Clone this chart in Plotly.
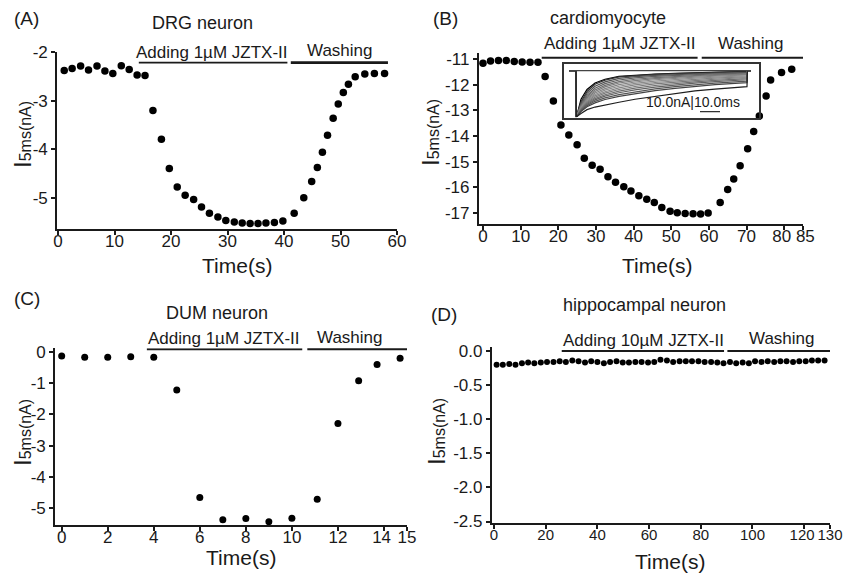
import plotly.graph_objects as go

# ---------------- data ----------------
# (A) DRG neuron
a_time = [1.1, 2.5, 4.0, 5.4, 6.9, 8.3, 9.7, 11.2, 12.6, 14.0, 15.4, 16.8, 18.3, 19.7, 21.1,
          22.5, 24.0, 25.4, 26.8, 28.3, 29.7, 31.2, 32.6, 34.0, 35.4, 36.8, 38.3, 39.8, 41.8,
          43.5, 44.9, 45.9, 46.8, 47.7, 48.7, 49.6, 50.5, 51.4, 52.6, 54.3, 56.0, 57.8]
a_current = [-2.38, -2.34, -2.29, -2.37, -2.29, -2.39, -2.44, -2.28, -2.36, -2.47, -2.48, -3.20,
             -3.79, -4.39, -4.77, -4.94, -5.03, -5.18, -5.31, -5.39, -5.46, -5.49, -5.51, -5.52,
             -5.52, -5.51, -5.50, -5.47, -5.31, -4.99, -4.66, -4.37, -4.06, -3.71, -3.36, -3.07,
             -2.83, -2.66, -2.51, -2.45, -2.44, -2.44]

# (B) cardiomyocyte
b_time = [0.0, 2.0, 4.1, 6.2, 8.3, 10.4, 12.5, 14.6, 16.5, 18.7, 20.7, 22.8, 25.0, 26.9, 29.0,
          31.1, 33.2, 35.2, 37.4, 39.3, 41.4, 43.5, 45.5, 47.5, 49.7, 51.6, 53.7, 55.8, 57.8,
          59.8, 63.0, 65.0, 66.6, 68.3, 70.3, 71.9, 73.4, 75.2, 76.4, 79.3, 82.0]
b_current = [-11.16, -11.07, -11.05, -11.05, -11.09, -11.11, -11.12, -11.12, -11.68, -12.63,
             -13.57, -13.96, -14.34, -14.87, -15.14, -15.30, -15.59, -15.81, -15.98, -16.15,
             -16.34, -16.47, -16.60, -16.80, -16.94, -17.00, -17.03, -17.04, -17.05, -17.01,
             -16.60, -16.09, -15.68, -15.16, -14.50, -13.83, -13.22, -12.44, -11.81, -11.52,
             -11.39]

# (B) inset: current traces (ms, nA)
inset_time = [-3, 0.5, 0.6, 1, 3, 6, 10, 15, 22, 30, 40, 50, 60, 70, 80, 86, 86.2, 88]
inset_traces = [
    [0, 0, -35, -34.0, -22.0, -14.5, -9.5, -6.6, -4.4, -3.4, -2.6, -2.1, -1.7, -1.3, -0.9, -0.6, 0, 0],
    [0, 0, -35, -34.0, -24.0, -16.0, -10.5, -7.3, -4.8, -3.7, -2.8, -2.3, -1.8, -1.4, -1.0, -0.7, 0, 0],
    [0, 0, -35, -34.3, -25.0, -17.5, -12.0, -8.6, -6.0, -4.6, -3.6, -2.9, -2.4, -2.0, -1.6, -1.3, 0, 0],
    [0, 0, -35, -34.5, -26.0, -19.0, -13.5, -10.0, -7.2, -5.6, -4.4, -3.6, -3.0, -2.5, -2.1, -1.8, 0, 0],
    [0, 0, -35, -34.5, -26.8, -20.0, -14.8, -11.3, -8.4, -6.6, -5.3, -4.4, -3.7, -3.1, -2.6, -2.3, 0, 0],
    [0, 0, -35, -34.5, -27.5, -21.0, -16.0, -12.5, -9.5, -7.6, -6.1, -5.1, -4.3, -3.7, -3.1, -2.8, 0, 0],
    [0, 0, -35, -34.7, -28.0, -22.0, -17.2, -13.8, -10.8, -8.7, -7.0, -5.9, -5.0, -4.3, -3.7, -3.3, 0, 0],
    [0, 0, -35, -34.8, -28.5, -22.8, -18.3, -15.0, -12.0, -9.8, -8.0, -6.8, -5.8, -5.0, -4.3, -3.9, 0, 0],
    [0, 0, -35, -34.8, -29.0, -23.7, -19.4, -16.2, -13.2, -11.0, -9.1, -7.8, -6.7, -5.8, -5.0, -4.6, 0, 0],
    [0, 0, -35, -34.8, -29.5, -24.5, -20.5, -17.3, -14.5, -12.2, -10.2, -8.8, -7.6, -6.6, -5.8, -5.3, 0, 0],
    [0, 0, -35, -35.0, -30.0, -25.3, -21.5, -18.5, -15.8, -13.5, -11.4, -9.9, -8.6, -7.5, -6.6, -6.1, 0, 0],
    [0, 0, -35, -35.0, -30.5, -26.0, -22.5, -19.6, -17.0, -14.8, -12.7, -11.0, -9.6, -8.5, -7.5, -7.0, 0, 0],
    [0, 0, -35, -35.0, -31.0, -26.9, -23.6, -20.9, -18.4, -16.2, -14.0, -12.3, -10.8, -9.6, -8.6, -8.1, 0, 0],
    [0, 0, -35, -35.0, -31.5, -27.8, -24.8, -22.2, -19.8, -17.6, -15.4, -13.6, -12.0, -10.8, -9.8, -9.2, 0, 0],
    [0, 0, -35.4, -35.2, -33.0, -30.0, -28.0, -26.3, -24.3, -22.0, -19.8, -17.8, -15.6, -14.2, -13.0, -12.3, 0, 0],
]
inset_colors = ["#000000", "#333333", "#505050", "#606060", "#6e6e6e", "#7a7a7a", "#848484",
                "#8c8c8c", "#848484", "#7a7a7a", "#6e6e6e", "#626262", "#555555", "#444444",
                "#1e1e1e"]
inset_base_time = [-3, 88]
inset_base_current = [0, 0]
inset_scale_time = [62.5, 72.5]
inset_scale_current = [-31.5, -31.5]

# (C) DUM neuron
c_time = [0, 1, 2, 3, 4, 5, 6, 7, 8, 9, 10, 11.1, 12.0, 12.9, 13.7, 14.7]
c_current = [-0.13, -0.17, -0.17, -0.15, -0.17, -1.22, -4.66, -5.38, -5.34, -5.44, -5.33,
             -4.72, -2.29, -0.92, -0.40, -0.20]

# (D) hippocampal neuron
d_time = [1, 3.4, 5.9, 8.3, 10.8, 13.2, 15.6, 18.1, 20.5, 23, 25.4, 27.8, 30.3, 32.7, 35.2,
          37.6, 40, 42.5, 44.9, 47.4, 49.8, 52.2, 54.7, 57.1, 59.6, 62, 64.4, 66.9, 69.3, 71.8,
          74.2, 76.6, 79.1, 81.5, 84, 86.4, 88.8, 91.3, 93.7, 96.2, 98.6, 101, 103.5, 105.9,
          108.4, 110.8, 113.2, 115.7, 118.1, 120.6, 123, 125.4, 127.9]
d_current = [-0.20, -0.20, -0.19, -0.20, -0.18, -0.17, -0.18, -0.17, -0.16, -0.16,
             -0.15, -0.16, -0.14, -0.15, -0.17, -0.15, -0.16, -0.18, -0.16, -0.15,
             -0.17, -0.17, -0.16, -0.16, -0.17, -0.16, -0.13, -0.14, -0.16, -0.15,
             -0.15, -0.15, -0.15, -0.16, -0.16, -0.17, -0.18, -0.16, -0.18, -0.17,
             -0.18, -0.15, -0.16, -0.15, -0.16, -0.15, -0.15, -0.16, -0.15, -0.15,
             -0.14, -0.14, -0.14]

# treatment periods (s)
a_adding, a_washing = (14.3, 40.6), (41.2, 58.4)
b_adding, b_washing = (15.6, 57.0), (58.1, 85.0)
c_adding, c_washing = (3.7, 10.45), (10.67, 15.0)
d_adding, d_washing = (26.2, 89.0), (90.3, 130.0)

# tick labels
a_xticks = [0, 10, 20, 30, 40, 50, 60]
a_yticks = [-2, -3, -4, -5]
b_xticks = [0, 10, 20, 30, 40, 50, 60, 70, 80, 85]
b_xticklabels = ["0", "10", "20", "30", "40", "50", "60", "70", "80\u00a0", "\u00a085"]
b_yticks = [-11, -12, -13, -14, -15, -16, -17]
c_xticks = [0, 2, 4, 6, 8, 10, 12, 14, 15]
c_xticklabels = ["0", "2", "4", "6", "8", "10", "12", "14\u00a0", "15"]
c_yticks = [0, -1, -2, -3, -4, -5]
d_xticks = [0, 20, 40, 60, 80, 100, 120, 130]
d_xticklabels = ["0", "20", "40", "60", "80", "100", "120\u00a0", "130"]
d_yticks = [0.0, -0.5, -1.0, -1.5, -2.0, -2.5]
d_yticklabels = ["0.0", "-0.5", "-1.0", "-1.5", "-2.0", "-2.5"]

# ---------------- figure ----------------
W, H = 844, 577
FONT = "Liberation Sans, Arial, sans-serif"
INK = "#1a1a1a"

fig = go.Figure()

def dots(x, y, ax, size):
    fig.add_trace(go.Scatter(x=x, y=y, mode="markers", xaxis="x" + ax, yaxis="y" + ax,
                             marker=dict(color="black", size=size), showlegend=False,
                             hoverinfo="x+y"))

dots(a_time, a_current, "", 7.5)
dots(b_time, b_current, "2", 7.5)
dots(c_time, c_current, "3", 7)
dots(d_time, d_current, "4", 6)

for tr, col in zip(inset_traces, inset_colors):
    fig.add_trace(go.Scatter(x=inset_time, y=tr, mode="lines", xaxis="x5", yaxis="y5",
                             line=dict(color=col, width=1.2), showlegend=False, hoverinfo="skip"))
fig.add_trace(go.Scatter(x=inset_base_time, y=inset_base_current, mode="lines", xaxis="x5",
                         yaxis="y5", line=dict(color="#444", width=1.2), showlegend=False,
                         hoverinfo="skip"))
fig.add_trace(go.Scatter(x=inset_scale_time, y=inset_scale_current, mode="lines", xaxis="x5",
                         yaxis="y5", line=dict(color="#333", width=1.3), showlegend=False,
                         hoverinfo="skip"))

def px_x(p):
    return p / W

def px_y(p):
    return 1 - p / H

def axis_common(**kw):
    d = dict(showline=True, linecolor=INK, linewidth=1.6, ticks="outside", ticklen=4,
             tickwidth=1.5, tickcolor=INK, showgrid=False, zeroline=False, automargin=False,
             tickangle=0, ticklabeloverflow="allow",
             tickfont=dict(family=FONT, size=17, color=INK))
    d.update(kw)
    return d

def ticks(vals, labels=None):
    return dict(tickmode="array", tickvals=vals,
                ticktext=labels if labels is not None else [str(v) for v in vals])

inset_axis = dict(showline=True, mirror=True, linecolor="#333", linewidth=1.6, ticks="",
                  showticklabels=False, showgrid=False, zeroline=False, automargin=False)

SO = -8
layout = dict(
    width=W, height=H, margin=dict(l=0, r=0, t=0, b=0, autoexpand=False),
    paper_bgcolor="white", plot_bgcolor="rgba(0,0,0,0)", showlegend=False,
    font=dict(family=FONT, color=INK),
    xaxis=axis_common(domain=[px_x(57), px_x(397)], range=[-0.18, 60], anchor="y",
                      ticklabelstandoff=SO, **ticks(a_xticks)),
    yaxis=axis_common(domain=[px_y(229), px_y(52)], range=[-5.634, -2.0], anchor="x",
                      **ticks(a_yticks)),
    xaxis2=axis_common(domain=[px_x(478.7), px_x(803)], range=[-1.14, 85], anchor="y2",
                       ticklabelstandoff=SO, **ticks(b_xticks, b_xticklabels)),
    yaxis2=axis_common(domain=[px_y(224), px_y(53.3)], range=[-17.44, -10.77], anchor="x2",
                       **ticks(b_yticks)),
    xaxis3=axis_common(domain=[px_x(55), px_x(407)], range=[-0.29, 15], anchor="y3",
                       ticklabelstandoff=SO, **ticks(c_xticks, c_xticklabels)),
    yaxis3=axis_common(domain=[px_y(525), px_y(348.3)], range=[-5.545, 0.119], anchor="x3",
                       **ticks(c_yticks)),
    xaxis4=axis_common(domain=[px_x(491.7), px_x(830)], range=[-0.9, 130], anchor="y4",
                       ticklabelstandoff=-7, tickfont=dict(family=FONT, size=15, color=INK),
                       **ticks(d_xticks, d_xticklabels)),
    yaxis4=axis_common(domain=[px_y(522.7), px_y(347)], range=[-2.517, 0.0586], anchor="x4",
                       **ticks(d_yticks, d_yticklabels)),
    xaxis5=dict(domain=[px_x(564), px_x(759)], range=[-5.5, 92], anchor="y5", **inset_axis),
    yaxis5=dict(domain=[px_y(117.7), px_y(64.3)], range=[-36.2, 4.9], anchor="x5", **inset_axis),
)
fig.update_layout(**layout)

# treatment bars
shapes = []
def bar(period, y, ax, width):
    shapes.append(dict(type="line", xref="x" + ax, yref="y" + ax, x0=period[0], x1=period[1],
                       y0=y, y1=y, line=dict(color=INK, width=width)))

bar(a_adding, -2.22, "", 1.8)
bar(a_washing, -2.22, "", 2.8)
bar(b_adding, -10.94, "2", 2.0)
bar(b_washing, -10.94, "2", 2.0)
bar(c_adding, 0.09, "3", 2.0)
bar(c_washing, 0.09, "3", 2.2)
bar(d_adding, 0.0, "4", 2.0)
bar(d_washing, 0.0, "4", 2.0)
fig.update_layout(shapes=shapes)

# texts
annotations = []
def txt(text, x, y, size, angle=0):
    annotations.append(dict(text=text, x=px_x(x), y=px_y(y), xref="paper", yref="paper",
                            xanchor="center", yanchor="middle", showarrow=False,
                            textangle=angle, font=dict(family=FONT, size=size, color=INK)))

YT = "<span style='font-size:24px'>I</span>5ms(nA)"

# panel A
txt("(A)", 27, 19, 19)
txt("DRG neuron", 202, 23, 18)
txt("Adding 1\u00b5M JZTX-II", 212, 52, 17)
txt("Washing", 340, 50, 17)
txt("Time(s)", 237, 265, 21)
txt(YT, 22, 135, 16, -90)
# panel B
txt("(B)", 445, 19, 19)
txt("cardiomyocyte", 608, 18, 18)
txt("Adding 1\u00b5M JZTX-II", 620, 43, 17)
txt("Washing", 751, 43, 17)
txt("Time(s)", 657, 265, 21)
txt(YT, 430, 133, 16, -90)
# panel C
txt("(C)", 27, 298, 19)
txt("DUM neuron", 217, 313, 18)
txt("Adding 1\u00b5M JZTX-II", 224, 338, 17)
txt("Washing", 350, 337, 17)
txt("Time(s)", 241, 557, 21)
txt(YT, 22, 433, 16, -90)
# panel D
txt("(D)", 444, 315, 19)
txt("hippocampal neuron", 644, 305, 18)
txt("Adding 10\u00b5M JZTX-II", 643, 340, 17)
txt("Washing", 782, 338, 17)
txt("Time(s)", 670, 561, 21)
txt(YT, 436, 432, 16, -90)

# inset scale text
annotations.append(dict(text="10.0nA|10.0ms", x=59, y=-23.8, xref="x5", yref="y5",
                        xanchor="center", yanchor="middle", showarrow=False,
                        font=dict(family=FONT, size=14, color=INK)))
fig.update_layout(annotations=annotations)

# place the figure flush with the window's top-left corner, no mode bar
fig.write_html("out.html",
               config={"displayModeBar": False},
               post_script="document.body.style.margin='0px';"
                           "document.body.style.overflow='hidden';")
